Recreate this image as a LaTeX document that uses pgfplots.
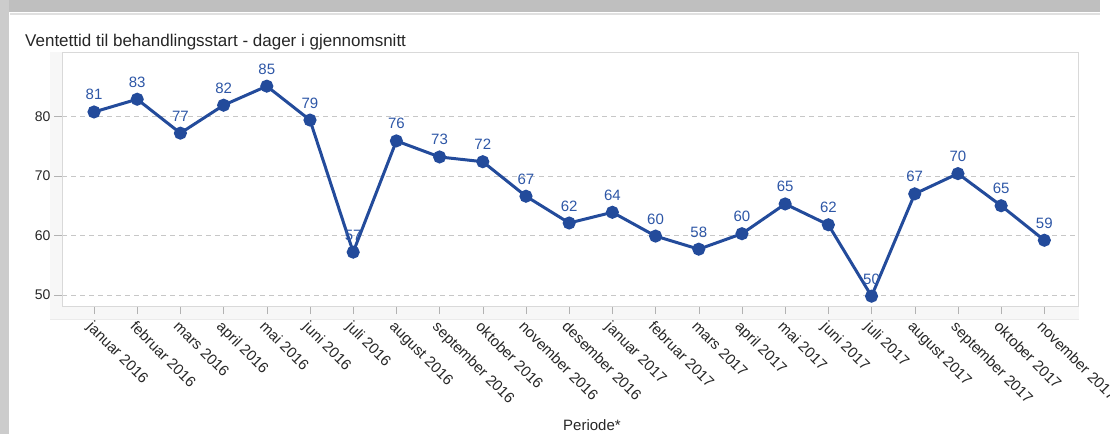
\documentclass[border=0pt]{standalone}
\usepackage{pgfplots}
\pgfplotsset{compat=1.18}
\usepackage{fontspec}
\setmainfont{Liberation Sans}
\definecolor{serie}{HTML}{234B9B}
\definecolor{lab}{HTML}{2D56A6}
\begin{document}
\begin{tikzpicture}
\path[use as bounding box] (0pt,0pt) rectangle (1110pt,434pt);
\fill[black!25] (0pt,422pt) rectangle (1100pt,434pt);
\fill[black!20] (0pt,0pt) rectangle (9pt,434pt);
\draw[black!12, line width=1.5pt] (10pt,420pt) -- (1100pt,420pt);
\fill[black!3] (50pt,115pt) rectangle (1079pt,128pt);
\fill[black!3] (50pt,115pt) rectangle (62pt,382pt);
\draw[black!8] (50pt,115pt) -- (1079pt,115pt);
\node[anchor=base west, inner sep=0pt, font=\fontsize{17}{20}\selectfont, text=black!85] at (25pt,387pt) {Ventettid til behandlingsstart - dager i gjennomsnitt};
\begin{axis}[at={(62pt,128pt)}, anchor=south west, scale only axis, width=1016pt, height=254pt,
  xmin=-0.741, xmax=22.78, ymin=48.15, ymax=90.84,
  axis line style={black!15},
  ytick={50,60,70,80}, ymajorgrids,
  grid style={black!22, dash pattern=on 5pt off 4pt},
  xtick={0,...,22},
  xtick pos=bottom, ytick pos=left,
  xticklabels={januar 2016, februar 2016, mars 2016, april 2016, mai 2016, juni 2016, juli 2016, august 2016, september 2016, oktober 2016, november 2016, desember 2016, januar 2017, februar 2017, mars 2017, april 2017, mai 2017, juni 2017, juli 2017, august 2017, september 2017, oktober 2017, november 2017},
  tick align=outside, major tick length=8pt, tick style={black!30},
  x tick label style={font=\fontsize{15}{17}\selectfont, text=black!85, inner sep=0pt, yshift=-6pt, rotate=-45, anchor=north west},
  y tick label style={font=\fontsize{14}{16}\selectfont, text=black!85},
  /pgf/number format/assume math mode=true,
  clip=false,
  point meta=explicit symbolic,
  nodes near coords,
  nodes near coords style={font=\fontsize{15}{17}\selectfont, text=lab, anchor=south, yshift=7pt},
]
\addplot[serie, line width=3pt, mark=*, mark size=5pt] coordinates {
(0,80.76) [81]
(1,82.9) [83]
(2,77.2) [77]
(3,81.9) [82]
(4,85.1) [85]
(5,79.4) [79]
(6,57.2) [57]
(7,75.9) [76]
(8,73.2) [73]
(9,72.4) [72]
(10,66.6) [67]
(11,62.1) [62]
(12,63.9) [64]
(13,59.9) [60]
(14,57.7) [58]
(15,60.3) [60]
(16,65.3) [65]
(17,61.8) [62]
(18,49.8) [50]
(19,67.0) [67]
(20,70.4) [70]
(21,65.0) [65]
(22,59.2) [59]
};
\end{axis}
\node[anchor=base, inner sep=0pt, font=\fontsize{15}{17}\selectfont, text=black!85] at (592pt,4pt) {Periode*};
\end{tikzpicture}
\end{document}
